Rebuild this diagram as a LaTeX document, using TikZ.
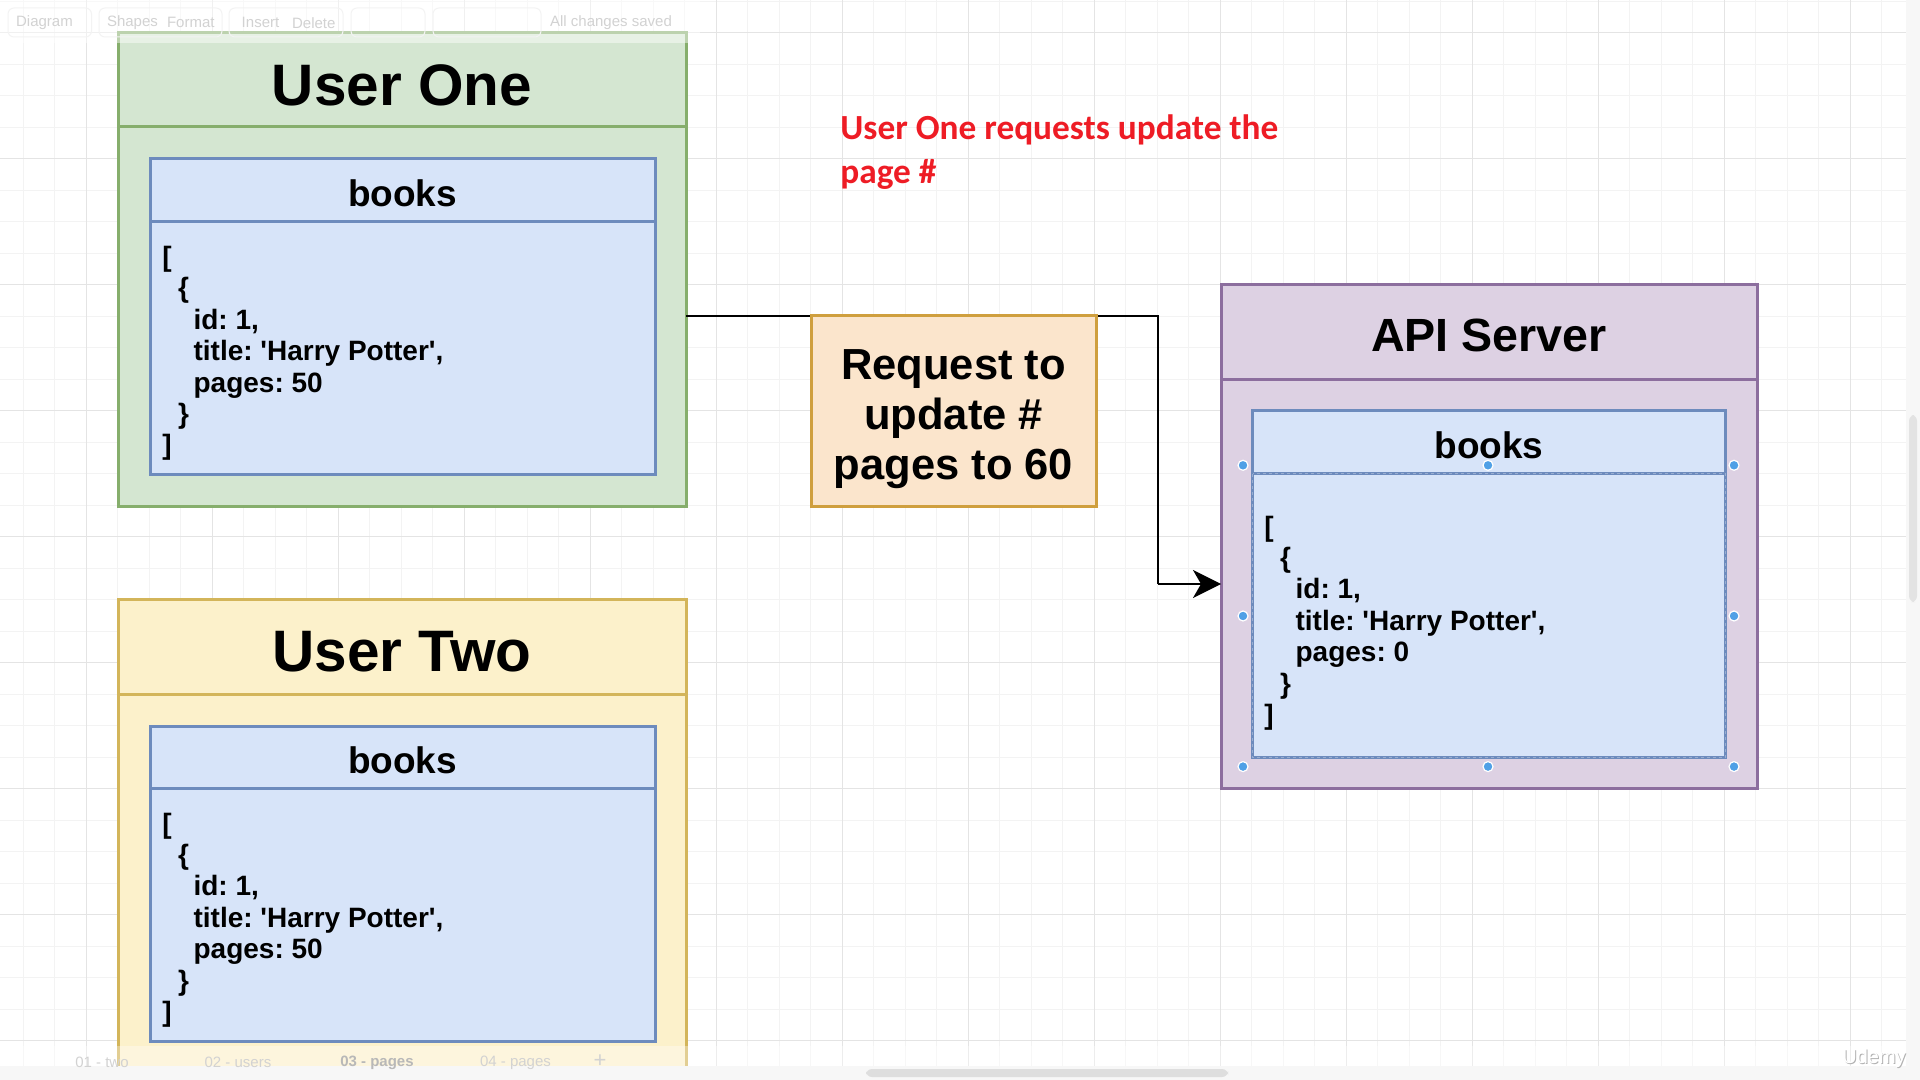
\documentclass[tikz,border=0pt]{standalone}
\usepackage{fontspec}
\setmainfont{Liberation Sans}
\newfontfamily\redfont{Carlito}
\usetikzlibrary{arrows.meta}
\frenchspacing
\definecolor{gfill}{HTML}{D4E6D1}
\definecolor{gline}{HTML}{86AE6C}
\definecolor{yfill}{HTML}{FCF1CB}
\definecolor{yline}{HTML}{D3B55A}
\definecolor{pfill}{HTML}{DDD1E3}
\definecolor{pline}{HTML}{8C6E9E}
\definecolor{bfill}{HTML}{D7E4F9}
\definecolor{bline}{HTML}{6D8BBD}
\definecolor{ofill}{HTML}{FBE5CC}
\definecolor{oline}{HTML}{CF9F3E}
\definecolor{rednote}{HTML}{EE1C25}
\definecolor{gridminor}{HTML}{F3F3F3}
\definecolor{gridmajor}{HTML}{E4E4E4}
\definecolor{handle}{HTML}{4FA0E6}
\definecolor{uigray}{HTML}{D2D2D2}
\newcommand\jsonblock[1]{[\\\hspace*{7.8pt}\{\\\hspace*{15.6pt}id: 1,\\\hspace*{15.6pt}title: \textquotesingle Harry Potter\textquotesingle,\\\hspace*{15.6pt}pages: #1\\\hspace*{7.8pt}\}\\]}
\begin{document}
\begin{tikzpicture}[x=0.5pt,y=-0.5pt,
  panel/.style={draw, line width=1.5pt, anchor=north west, inner sep=0pt, outer sep=0pt},
  divider/.style={line width=1.5pt},
  bigtitle/.style={font=\bfseries\fontsize{29.25pt}{35pt}\selectfont, inner sep=0pt},
  midtitle/.style={font=\bfseries\fontsize{23.3pt}{28pt}\selectfont, inner sep=0pt},
  bookstitle/.style={font=\bfseries\fontsize{18.5pt}{22pt}\selectfont, inner sep=0pt},
  json/.style={font=\bfseries\fontsize{14pt}{15.7pt}\selectfont, align=left, anchor=west, inner sep=0pt},
  reqtext/.style={font=\bfseries\fontsize{21.75pt}{25pt}\selectfont, align=center, inner sep=0pt},
  redtext/.style={font=\redfont\bfseries\fontsize{17.65pt}{22pt}\selectfont, text=rednote, align=left, anchor=west, inner sep=0pt},
  conn/.style={line width=1.4pt, -{Stealth[length=14pt,width=14pt,inset=4pt]}},
  uitext/.style={font=\fontsize{7.5pt}{9pt}\selectfont, text=uigray, inner sep=0pt},
  uibtn/.style={draw=gridminor, line width=0.5pt, rounded corners=3pt},
  handledot/.style={circle, fill=handle, draw=white, line width=0.6pt, inner sep=0pt, minimum size=5pt}
]
\useasboundingbox (0,0) rectangle (1920,1080);
\fill[white] (0,0) rectangle (1920,1080);
% grid
\foreach \k in {0,...,61} {
  \pgfmathsetmacro\xx{-8.5+31.5*\k}
  \draw[gridminor, line width=0.5pt] (\xx,0) -- (\xx,1066);
}
\foreach \k in {0,...,33} {
  \pgfmathsetmacro\yy{1.2+31.5*\k}
  \draw[gridminor, line width=0.5pt] (0,\yy) -- (1906,\yy);
}
\foreach \k in {0,...,14} {
  \pgfmathsetmacro\xx{86+126*\k}
  \draw[gridmajor, line width=0.5pt] (\xx,0) -- (\xx,1066);
}
\foreach \k in {0,...,8} {
  \pgfmathsetmacro\yy{32.7+126*\k}
  \draw[gridmajor, line width=0.5pt] (0,\yy) -- (1906,\yy);
}

% User One
\node[panel, fill=gfill, draw=gline, minimum width=284pt, minimum height=236.5pt] (u1) at (118,33) {};
\draw[divider, gline] (118,127) -- (686,127);
\node[bigtitle] (u1t) at (402,85) {User One};
\node[panel, fill=bfill, draw=bline, minimum width=252.5pt, minimum height=157.75pt] (bk1) at (150,159) {};
\draw[divider, bline] (150,222) -- (655,222);
\node[bookstitle] (bk1t) at (402.5,193) {books};
\node[json] (js1) at (162,353.5) {\jsonblock{50}};

% User Two
\node[panel, fill=yfill, draw=yline, minimum width=284pt, minimum height=243pt] (u2) at (118,599.6) {};
\draw[divider, yline] (118,694.3) -- (686,694.3);
\node[bigtitle] (u2t) at (402,651.5) {User Two};
\node[panel, fill=bfill, draw=bline, minimum width=252.5pt, minimum height=157.5pt] (bk2) at (150,726) {};
\draw[divider, bline] (150,788.6) -- (655,788.6);
\node[bookstitle] (bk2t) at (402.5,760) {books};
\node[json] (js2) at (162,920) {\jsonblock{50}};

% API Server
\node[panel, fill=pfill, draw=pline, minimum width=268pt, minimum height=251.8pt] (api) at (1221,285) {};
\draw[divider, pline] (1221,379.8) -- (1757,379.8);
\node[midtitle] (apit) at (1489,335) {API Server};
\node[panel, fill=bfill, draw=bline, minimum width=236.4pt, minimum height=173.4pt] (bk3) at (1252.7,410.8) {};
\draw[divider, bline] (1252.7,473.8) -- (1725.5,473.8);
\draw[bline!70, line width=0.5pt, dash pattern=on 1.5pt off 1.5pt] (1252.7,473.8) rectangle (1725.5,757.6);
\node[bookstitle] (bk3t) at (1489,445) {books};
\node[json] (js3) at (1264,623) {\jsonblock{0}};

% connector (drawn under the request box)
\coordinate (bend) at (1158,584);
\draw[line width=1.4pt] (u1.north east |- 0,316) -| (bend);
\draw[conn] (bend) -- (bend -| api.west);

% Request box
\node[panel, fill=ofill, draw=oline, minimum width=142.5pt, minimum height=95pt] (req) at (811,316) {};
\node[reqtext] (reqt) at (953.5,419) {Request to\\update \#\\pages to 60};

% red note
\node[redtext] (note) at (840,152.5) {User One requests update the\\page \#};

% selection handles
\foreach \hx/\hy [count=\i] in {1243/465.3,1488/465.3,1734/465.3,1243/616,1734/616,1243/766.6,1488/766.6,1734/766.6}
  \node[handledot] (h\i) at (\hx,\hy) {};

% toolbar overlay
\fill[white, opacity=0.45] (0,0) rectangle (700,43);
\draw[uibtn] (8,8) rectangle (91.5,37);
\draw[uibtn] (99,8) rectangle (222,37);
\draw[uibtn] (229,8) rectangle (343,37);
\draw[uibtn] (351,8) rectangle (425,37);
\draw[uibtn] (433,8) rectangle (541,37);
\node[uitext] (tb1) at (44.5,22.7) {Diagram};
\node[uitext] (tb2) at (132.5,22.7) {Shapes};
\node[uitext] (tb3) at (190.8,22.7) {Format};
\node[uitext] (tb4) at (260.5,22.7) {Insert};
\node[uitext] (tb5) at (313.8,22.7) {Delete};
\node[uitext] (tb6) at (611,23) {All changes saved};

% bottom bars
\fill[white, opacity=0.35] (0,1046) rectangle (1906,1066);
\fill[black!3] (0,1066) rectangle (1920,1080);
\fill[black!3] (1906,0) rectangle (1920,1066);
\fill[black!13, rounded corners=3pt] (866,1069) rectangle (1228,1077);
\fill[black!11, rounded corners=3pt] (1909,415) rectangle (1917,602);
\node[uitext] (tab1) at (102,1062.5) {01 - two};
\node[uitext] (tab2) at (238,1062.5) {02 - users};
\node[uitext, font=\bfseries\fontsize{7.5pt}{9pt}\selectfont, text=black!28] (tab3) at (377,1062.5) {03 - pages};
\node[uitext] (tab4) at (515.5,1062.5) {04 - pages};
\node[uitext, font=\fontsize{11pt}{12pt}\selectfont] (tab5) at (600,1061) {+};
\node[uitext, font=\fontsize{10pt}{12pt}\selectfont, text=black!30] (wm0) at (1875,1059) {Udemy};
\node[uitext, font=\fontsize{10pt}{12pt}\selectfont, text=white] (wm) at (1874,1058) {Udemy};
\end{tikzpicture}
\end{document}
